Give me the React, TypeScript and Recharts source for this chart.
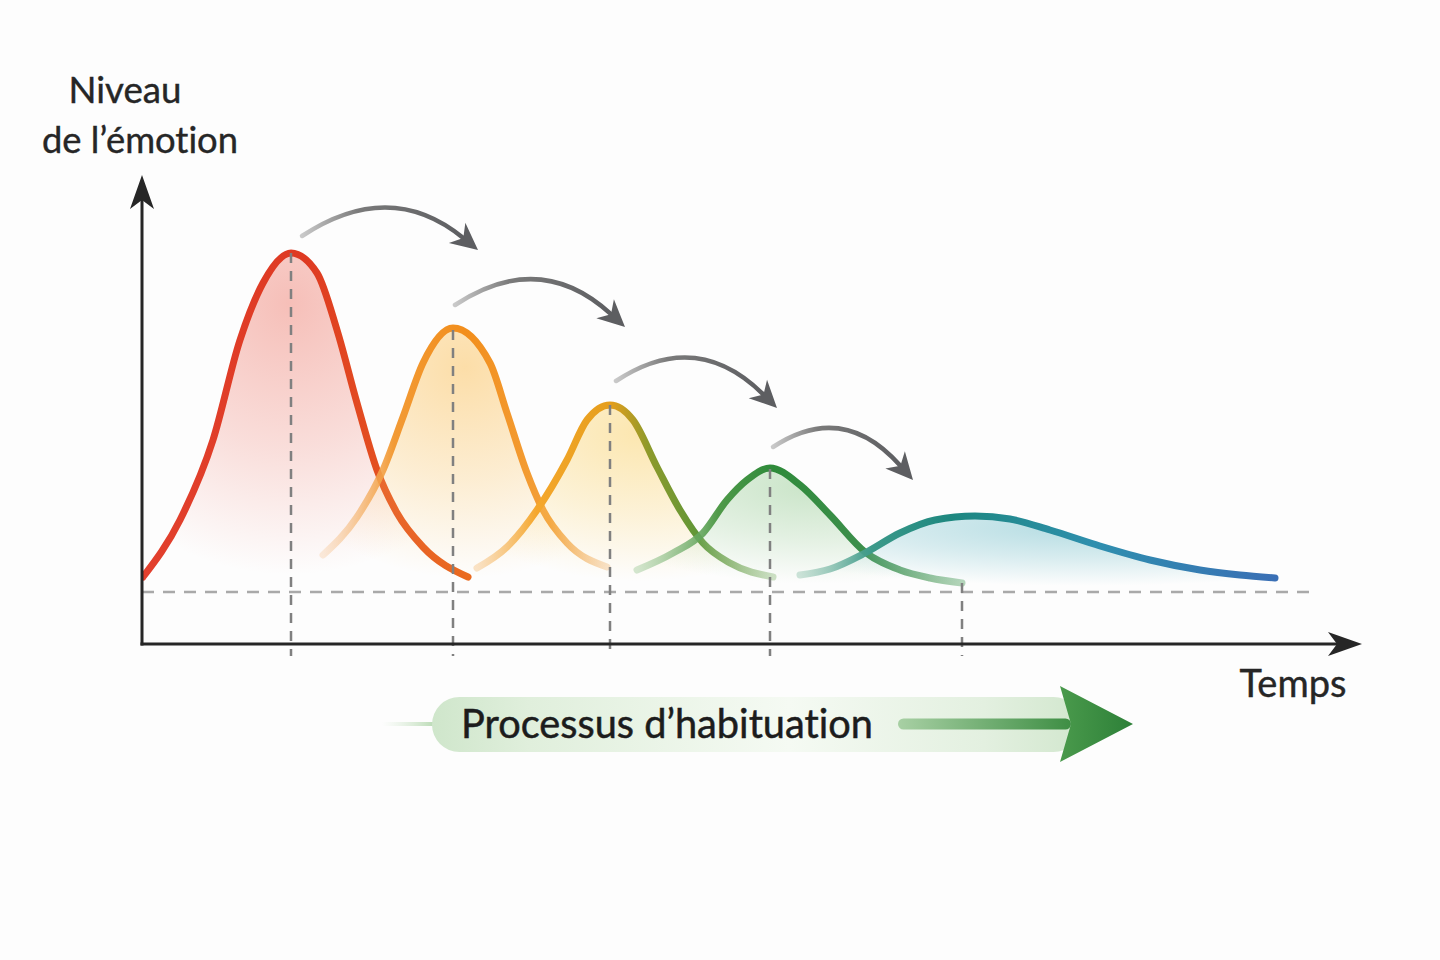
import { ComposedChart, Area, XAxis, YAxis, ReferenceLine } from 'recharts'

const CURVE_RED: [number, number][] = [
  [0.1, 6.7], [3.8, 12.4], [7.1, 20.4], [9.8, 30.4], [12.1, 36.1], [14.9, 39.1],
  [17.5, 37.1], [19.5, 31.4], [21.5, 24.1], [23.5, 17.4], [25.5, 13.1], [28.1, 9.7], [32.6, 6.7],
]
const CURVE_ORANGE: [number, number][] = [
  [18.1, 8.9], [21.5, 12.7], [24.1, 17.4], [26.1, 22.7], [28.1, 28.1], [31.1, 31.6],
  [34.8, 28.1], [36.5, 23.1], [38.5, 17.1], [40.1, 13.4], [42.5, 10.1], [46.5, 7.7],
]
const CURVE_YELLOW: [number, number][] = [
  [33.5, 7.6], [36.5, 9.7], [39.5, 13.4], [42.5, 18.4], [44.5, 22.4], [46.8, 23.9],
  [49.1, 22.4], [51.5, 17.7], [53.8, 13.4], [56.1, 10.1], [58.8, 8.1], [63.1, 6.7],
]
const CURVE_GREEN: [number, number][] = [
  [49.5, 7.4], [53.1, 9.1], [56.1, 11.1], [58.5, 14.4], [60.5, 16.4], [62.8, 17.6],
  [65.8, 15.9], [68.8, 12.9], [72.3, 9.2], [75.8, 7.4], [78.8, 6.6], [82.0, 6.1],
]
const CURVE_BLUE: [number, number][] = [
  [65.8, 6.9], [68.8, 7.5], [72.3, 9.1], [75.8, 11.1], [79.3, 12.4], [83.3, 12.8],
  [86.8, 12.5], [90.8, 11.4], [95.8, 9.8], [100.8, 8.4], [105.8, 7.4], [109.8, 6.9], [113.3, 6.6],
]

// repères pointillés verticaux (pics + fin de la 4e courbe)
const MARK_T = [14.9, 31.1, 46.8, 62.8, 82.0]
const MARK_LEVEL = [39.1, 31.4, 23.9, 17.5, 6.1]
const BASELINE_LEVEL = 5.2

// flèches grises : [t départ, niveau départ, t arrivée, niveau arrivée]
const ARROWS: [number, number, number, number][] = [
  [16.0, 40.8, 33.6, 39.4],
  [31.3, 33.9, 48.3, 31.7],
  [47.4, 26.3, 63.5, 23.6],
  [63.1, 19.7, 77.1, 16.4],
]

const Y_LABEL = ['Niveau', 'de l’émotion']
const X_LABEL = 'Temps'
const BANNER_LABEL = 'Processus d’habituation'

const SERIES = [
  { key: 'rouge', points: CURVE_RED },
  { key: 'orange', points: CURVE_ORANGE },
  { key: 'jaune', points: CURVE_YELLOW },
  { key: 'vert', points: CURVE_GREEN },
  { key: 'bleu', points: CURVE_BLUE },
]

const chartData = SERIES.flatMap((s) =>
  s.points.map(([t, v]) => {
    const row: Record<string, number | null> = { t }
    SERIES.forEach((o) => (row[o.key] = o.key === s.key ? v : null))
    return row
  })
)

const FONT = 'Lato, "Open Sans", sans-serif'
const INK = '#262626'
const NO_LIGA = { fontVariantLigatures: 'none' as const, fontFeatureSettings: '"liga" 0, "clig" 0' }

function AxisArrow(props: any) {
  const x1 = Number(props.x1), y1 = Number(props.y1), x2 = Number(props.x2), y2 = Number(props.y2)
  const len = Math.hypot(x2 - x1, y2 - y1)
  const ux = (x2 - x1) / len, uy = (y2 - y1) / len
  const nx = -uy, ny = ux
  const L = 34, W = 12, N = 9
  const bx = x2 - ux * L, by = y2 - uy * L
  const ix = x2 - ux * (L - N), iy = y2 - uy * (L - N)
  return (
    <g>
      <line x1={x1} y1={y1} x2={ix} y2={iy} stroke={INK} strokeWidth={3} />
      <polygon points={`${x2},${y2} ${bx + nx * W},${by + ny * W} ${ix},${iy} ${bx - nx * W},${by - ny * W}`} fill={INK} />
      {props.children}
    </g>
  )
}

function ArcArrow(props: any) {
  const x1 = Number(props.x1), y1 = Number(props.y1), x2 = Number(props.x2), y2 = Number(props.y2)
  const dx = x2 - x1
  const cx = (x1 + x2) / 2, cy = Math.min(y1, y2) - 0.33 * dx
  const len = Math.hypot(x2 - cx, y2 - cy)
  const ux = (x2 - cx) / len, uy = (y2 - cy) / len
  const nx = -uy, ny = ux
  const L = 27, W = 13, N = 8
  const bx = x2 - ux * L, by = y2 - uy * L
  const ix = x2 - ux * (L - N), iy = y2 - uy * (L - N)
  return (
    <g>
      <path d={`M${x1},${y1} Q${cx},${cy} ${ix},${iy}`} fill="none" stroke="url(#arcGrad)" strokeWidth={4.5} strokeLinecap="round" />
      <polygon points={`${x2},${y2} ${bx + nx * W},${by + ny * W} ${ix},${iy} ${bx - nx * W},${by - ny * W}`} fill="#5d5e61" />
    </g>
  )
}

function Banner(props: any) {
  const x1 = Number(props.x1), y = Number(props.y1), x2 = Number(props.x2)
  const pillL = x1 + 50, pillR = x2 - 52
  const shaftL = x2 - 235, shaftR = x2 - 62
  return (
    <g>
      <rect x={x1} y={y - 2} width={pillL + 4 - x1} height={4} fill="url(#leadGrad)" />
      <rect x={pillL} y={y - 27} width={pillR - pillL} height={55} rx={27.5} fill="url(#pillGrad)" />
      <text x={x1 + 79} y={y + 14} fontFamily={FONT} fontSize={40} fill="#1c1c1c" stroke="#1c1c1c" strokeWidth={0.5} textLength={412} lengthAdjust="spacingAndGlyphs" style={NO_LIGA}>
        {BANNER_LABEL}
      </text>
      <rect x={shaftL} y={y - 5.5} width={shaftR - shaftL} height={11} rx={5.5} fill="url(#shaftGrad)" />
      <polygon points={`${x2},${y} ${x2 - 73},${y - 38} ${x2 - 62},${y} ${x2 - 73},${y + 38}`} fill="url(#headGrad)" />
    </g>
  )
}

export default function App() {
  return (
    <div style={{ position: 'absolute', left: 0, top: 0, width: 1440, height: 960, background: '#fdfdfd' }}>
      <ComposedChart width={1440} height={960} data={chartData} margin={{ top: 144, right: 98, bottom: 316, left: 142 }}>
        <defs>
          <linearGradient id="s-rouge" x1="0" y1="0" x2="1" y2="0">
            <stop offset="0" stopColor="#e2402e" />
            <stop offset="0.5" stopColor="#de3a22" />
            <stop offset="1" stopColor="#ea6a1f" />
          </linearGradient>
          <linearGradient id="s-orange" x1="0" y1="0" x2="1" y2="0">
            <stop offset="0" stopColor="#f6c89c" stopOpacity={0.35} />
            <stop offset="0.25" stopColor="#f29a35" />
            <stop offset="0.5" stopColor="#f28e1c" />
            <stop offset="0.8" stopColor="#f3a03a" />
            <stop offset="1" stopColor="#f4cfa6" stopOpacity={0.6} />
          </linearGradient>
          <linearGradient id="s-jaune" x1="0" y1="0" x2="1" y2="0">
            <stop offset="0" stopColor="#f6c384" stopOpacity={0.45} />
            <stop offset="0.2" stopColor="#f5a72c" />
            <stop offset="0.45" stopColor="#e59e1c" />
            <stop offset="0.58" stopColor="#8d9a2b" />
            <stop offset="0.75" stopColor="#5f9638" />
            <stop offset="1" stopColor="#b8d3ac" stopOpacity={0.7} />
          </linearGradient>
          <linearGradient id="s-vert" x1="0" y1="0" x2="1" y2="0">
            <stop offset="0" stopColor="#a9cfa3" stopOpacity={0.5} />
            <stop offset="0.25" stopColor="#509a49" />
            <stop offset="0.42" stopColor="#2e8a3a" />
            <stop offset="0.7" stopColor="#3d8f4c" />
            <stop offset="1" stopColor="#9cc8a4" stopOpacity={0.75} />
          </linearGradient>
          <linearGradient id="s-bleu" x1="0" y1="0" x2="1" y2="0">
            <stop offset="0" stopColor="#9cc9b5" stopOpacity={0.5} />
            <stop offset="0.15" stopColor="#3d9a8a" />
            <stop offset="0.32" stopColor="#1d877f" />
            <stop offset="0.62" stopColor="#2e8fae" />
            <stop offset="1" stopColor="#3a6fb5" />
          </linearGradient>
          {[
            ['rouge', '#f08c80', 0.45],
            ['orange', '#fbc463', 0.5],
            ['jaune', '#fbd470', 0.55],
            ['vert', '#9fd09c', 0.55],
            ['bleu', '#78c1cc', 0.6],
          ].map(([k, c, cx]) => (
            <radialGradient key={k as string} id={`f-${k}`} cx={cx as number} cy="0.15" r="0.95">
              <stop offset="0" stopColor={c as string} stopOpacity={0.55} />
              <stop offset="0.45" stopColor={c as string} stopOpacity={0.28} />
              <stop offset="0.85" stopColor={c as string} stopOpacity={0} />
            </radialGradient>
          ))}
          <linearGradient id="arcGrad" x1="0" y1="0" x2="1" y2="0">
            <stop offset="0" stopColor="#c9c9c9" />
            <stop offset="0.35" stopColor="#7a7a7a" />
            <stop offset="1" stopColor="#5d5e61" />
          </linearGradient>
          <linearGradient id="leadGrad" x1="0" y1="0" x2="1" y2="0">
            <stop offset="0" stopColor="#d6ead2" stopOpacity={0} />
            <stop offset="1" stopColor="#b7d9b2" />
          </linearGradient>
          <linearGradient id="pillGrad" x1="0" y1="0" x2="1" y2="0">
            <stop offset="0" stopColor="#cfe6cb" />
            <stop offset="0.15" stopColor="#e0efdc" />
            <stop offset="0.55" stopColor="#f5faf3" />
            <stop offset="0.85" stopColor="#e3f0e0" />
            <stop offset="1" stopColor="#d2e7ce" />
          </linearGradient>
          <linearGradient id="shaftGrad" x1="0" y1="0" x2="1" y2="0">
            <stop offset="0" stopColor="#a8d0a4" />
            <stop offset="1" stopColor="#3e8e44" />
          </linearGradient>
          <linearGradient id="headGrad" x1="0" y1="0" x2="1" y2="0">
            <stop offset="0" stopColor="#4a9a4c" />
            <stop offset="1" stopColor="#2d8038" />
          </linearGradient>
        </defs>

        <XAxis dataKey="t" type="number" domain={[0, 120]} allowDataOverflow hide />
        <YAxis type="number" domain={[0, 50]} allowDataOverflow hide />

        <ReferenceLine
          segment={[{ x: 0, y: BASELINE_LEVEL }, { x: 116.8, y: BASELINE_LEVEL }]}
          stroke="#a9a9a9"
          strokeWidth={2.5}
          strokeDasharray="12 9"
          ifOverflow="visible"
        />
        {MARK_T.map((t, i) => (
          <ReferenceLine
            key={`m${i}`}
            segment={[{ x: t, y: MARK_LEVEL[i] }, { x: t, y: -1.2 }]}
            stroke="#808080"
            strokeWidth={2.5}
            strokeDasharray="10 8"
            ifOverflow="visible"
          />
        ))}

        {SERIES.map((s) => (
          <Area
            key={s.key}
            dataKey={s.key}
            type="monotone"
            connectNulls
            baseValue={5.5}
            stroke={`url(#s-${s.key})`}
            strokeWidth={7}
            strokeLinecap="round"
            fill={`url(#f-${s.key})`}
            fillOpacity={1}
            dot={false}
            activeDot={false}
            isAnimationActive={false}
          />
        ))}

        {ARROWS.map(([ta, la, tb, lb], i) => (
          <ReferenceLine key={`a${i}`} segment={[{ x: ta, y: la }, { x: tb, y: lb }]} ifOverflow="visible" shape={ArcArrow} />
        ))}

        <ReferenceLine
          segment={[{ x: 0, y: -0.15 }, { x: 0, y: 46.9 }]}
          ifOverflow="visible"
          shape={(p: any) => (
            <AxisArrow {...p}>
              <text x={Number(p.x2) - 17} y={Number(p.y2) - 72} textAnchor="middle" fontFamily={FONT} fontSize={36} fill={INK} stroke={INK} strokeWidth={0.4} textLength={113} lengthAdjust="spacingAndGlyphs" style={NO_LIGA}>
                {Y_LABEL[0]}
              </text>
              <text x={Number(p.x2) - 2} y={Number(p.y2) - 22} textAnchor="middle" fontFamily={FONT} fontSize={36} fill={INK} stroke={INK} strokeWidth={0.4} textLength={196} lengthAdjust="spacingAndGlyphs" style={NO_LIGA}>
                {Y_LABEL[1]}
              </text>
            </AxisArrow>
          )}
        />
        <ReferenceLine
          segment={[{ x: -0.15, y: 0 }, { x: 122, y: 0 }]}
          ifOverflow="visible"
          shape={(p: any) => (
            <AxisArrow {...p}>
              <text x={Number(p.x2) - 69} y={Number(p.y2) + 53} textAnchor="middle" fontFamily={FONT} fontSize={38} fill={INK} stroke={INK} strokeWidth={0.4} textLength={107} lengthAdjust="spacingAndGlyphs" style={NO_LIGA}>
                {X_LABEL}
              </text>
            </AxisArrow>
          )}
        />

        <ReferenceLine segment={[{ x: 24.0, y: -8.0 }, { x: 99.1, y: -8.0 }]} ifOverflow="visible" shape={Banner} />
      </ComposedChart>
    </div>
  )
}
